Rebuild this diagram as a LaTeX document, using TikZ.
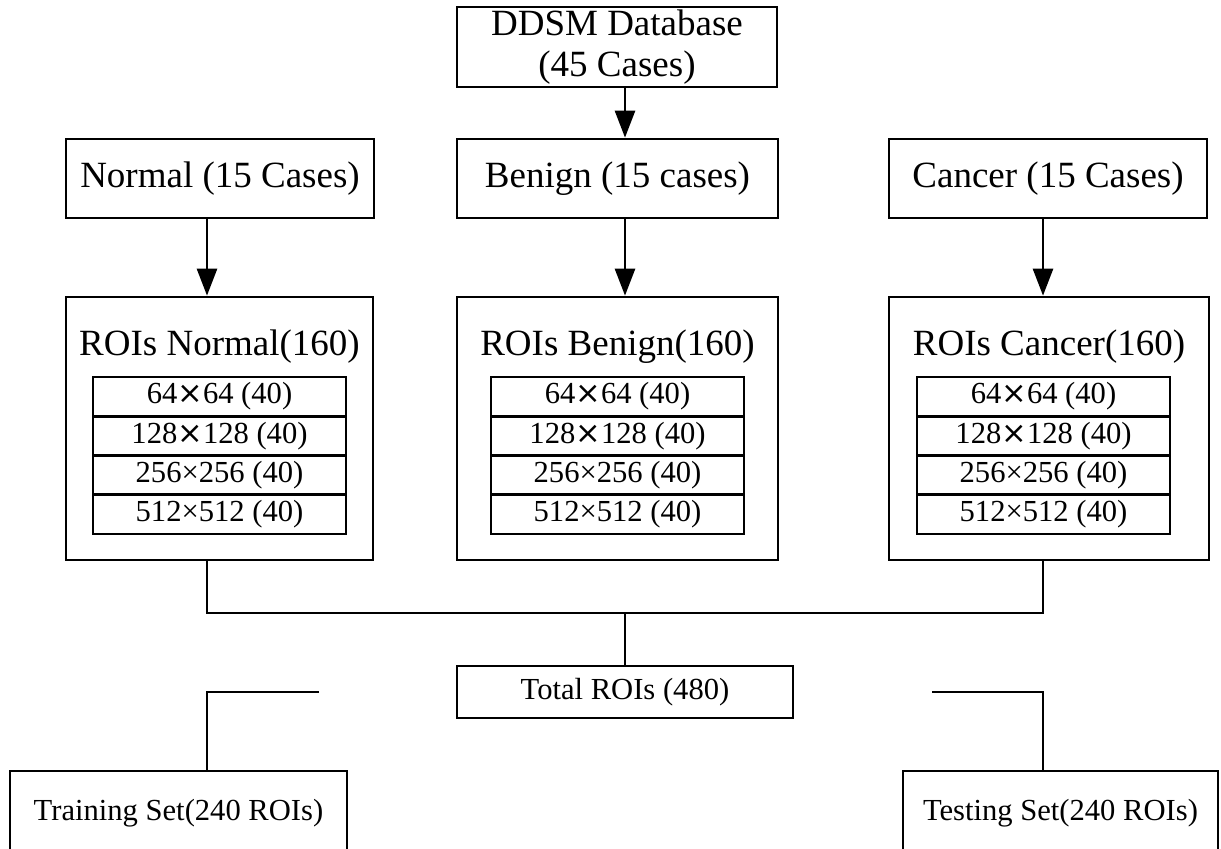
\documentclass[tikz,border=0pt]{standalone}
\usepackage{fontspec}
\setmainfont{Liberation Serif}
\newfontfamily\dvfont{DejaVu Sans}
\usetikzlibrary{arrows.meta}
\newcommand{\hx}{{\dvfont ×}}
\begin{document}
\begin{tikzpicture}[x=0.5pt,y=-0.5pt,line width=1.35pt,
  box/.style={draw,line width=1.35pt,inner sep=0pt,align=center},
  big/.style={font=\fontsize{18.5pt}{20.5pt}\selectfont},
  small/.style={font=\fontsize{15.3pt}{17pt}\selectfont},
  toprow/.style={box,big,minimum height=39.5pt},
  roibox/.style={box,minimum height=131.5pt},
  cell/.style={box,small,minimum width=126.5pt,minimum height=19.6pt},
  arr/.style={-{Triangle[length=13.5pt,width=10pt]}}]
\useasboundingbox (0,0) rectangle (1221,848);
\fill[white] (0,0) rectangle (1221,848);
\clip (0,0) rectangle (1221,848);

% x positions of connectors
\coordinate (xN) at (207,0);
\coordinate (xB) at (625,0);
\coordinate (xC) at (1043,0);
\coordinate (hy) at (0,613);

\node[box,big,minimum width=160pt,minimum height=40pt] (ddsm) at (617,47) {DDSM Database\\(45 Cases)};

\node[toprow,minimum width=154pt] (normal) at (220,178.5) {Normal (15 Cases)};
\node[toprow,minimum width=160.5pt] (benign) at (617.5,178.5) {Benign (15 cases)};
\node[toprow,minimum width=159pt] (cancer) at (1048,178.5) {Cancer (15 Cases)};

\node[roibox,minimum width=153.5pt] (roin) at (219.5,428.5) {};
\node[roibox,minimum width=160.5pt] (roib) at (617.5,428.5) {};
\node[roibox,minimum width=160pt] (roic) at (1049,428.5) {};

\node[big] (roint) at (219.5,347) {ROIs Normal(160)};
\node[big] (roibt) at (617.5,347) {ROIs Benign(160)};
\node[big] (roict) at (1049,347) {ROIs Cancer(160)};

\foreach \cx/\nm in {219.5/n,617.5/b,1043.5/c}{
  \node[cell] (\nm1) at (\cx,396.6) {64\hx 64 (40)};
  \node[cell] (\nm2) at (\cx,435.9) {128\hx 128 (40)};
  \node[cell] (\nm3) at (\cx,475.1) {256×256 (40)};
  \node[cell] (\nm4) at (\cx,514.4) {512×512 (40)};
}

\node[box,small,minimum width=168pt,minimum height=26pt] (total) at (625,692) {Total ROIs (480)};

\node[box,small,minimum width=168.5pt,minimum height=42pt] (train) at (178.5,813) {Training Set(240 ROIs)};
\node[box,small,minimum width=157.5pt,minimum height=42pt] (test) at (1060.5,813) {Testing Set(240 ROIs)};

% arrows
\draw[arr] (ddsm.south -| xB) -- (benign.north -| xB);
\draw[arr] (normal.south -| xN) -- (roin.north -| xN);
\draw[arr] (benign.south -| xB) -- (roib.north -| xB);
\draw[arr] (cancer.south -| xC) -- (roic.north -| xC);

% merge lines
\draw (roin.south -| xN) -- (xN |- hy) -- (xC |- hy) -- (roic.south -| xC);
\draw (xB |- hy) -- (total.north -| xB);

% split brackets
\coordinate (lfree) at (319,692);
\coordinate (rfree) at (932,692);
\draw (lfree) -- (lfree -| xN) -- (train.north -| xN);
\draw (rfree) -- (rfree -| xC) -- (test.north -| xC);
\end{tikzpicture}
\end{document}
